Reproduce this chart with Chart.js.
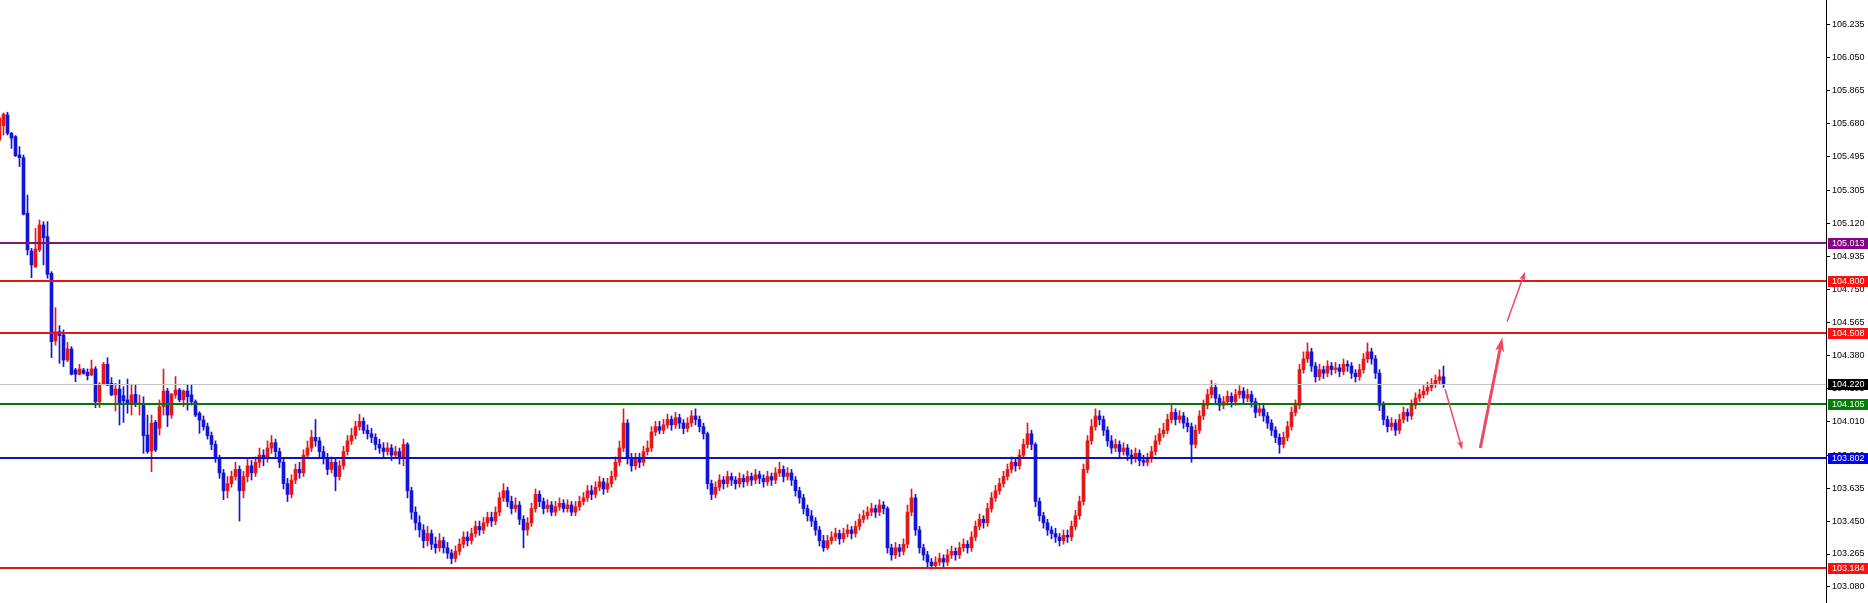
<!DOCTYPE html>
<html><head><meta charset="utf-8">
<script src="https://cdn.jsdelivr.net/npm/chart.js@4"></script>
<style>html,body{margin:0;padding:0;background:#fff;overflow:hidden}canvas{display:block}</style>
</head><body>
<canvas id="c" width="1868" height="603"></canvas>
<script>
// ---- data ----
const opens = [
105.589,105.670,105.730,105.627,105.608,105.505,105.490,105.178,104.966,104.878,
104.972,105.112,105.047,104.841,104.461,104.513,104.495,104.354,104.416,104.298,
104.274,104.298,104.285,104.270,104.304,104.120,104.217,104.330,104.223,104.158,
104.191,104.154,104.130,104.111,104.161,104.106,104.111,103.933,103.843,104.004,
103.971,104.092,104.180,104.045,104.158,104.186,104.130,104.180,104.158,104.120,
104.055,
104.017,103.98,103.93,103.88,103.80,103.72,103.62,103.66,103.70,103.74,
103.62,103.70,103.76,103.72,103.78,103.82,103.80,103.86,103.89,103.84,
103.78,103.66,103.60,103.68,103.74,103.72,103.82,103.86,103.92,103.90,
103.84,103.80,103.74,103.78,103.70,103.76,103.84,103.90,103.93,103.98,
104.01,103.96,103.94,103.92,103.88,103.86,103.84,103.86,103.82,103.84,
103.80,103.88,103.62,103.50,103.44,103.40,103.34,103.38,103.32,103.30,
103.34,103.30,103.27,103.24,103.28,103.32,103.36,103.34,103.38,103.42,
103.40,103.44,103.47,103.45,103.50,103.58,103.62,103.56,103.52,103.54,
103.46,103.40,103.44,103.52,103.60,103.56,103.52,103.54,103.50,103.53,
103.55,103.52,103.54,103.50,103.53,103.56,103.58,103.62,103.60,103.64,
103.67,103.63,103.66,103.70,103.78,103.86,104.00,103.80,103.76,103.80,
103.78,103.84,103.86,103.95,103.98,103.96,103.99,104.02,103.99,104.03,
104.00,103.97,104.00,104.04,104.02,103.98,103.94,103.66,103.60,103.64,
103.68,103.66,103.70,103.68,103.66,103.69,103.67,103.70,103.68,103.71,
103.69,103.67,103.70,103.68,103.72,103.74,103.70,103.72,103.68,103.62,
103.58,103.52,103.48,103.45,103.40,103.34,103.30,103.34,103.36,103.38,
103.35,103.38,103.40,103.38,103.42,103.46,103.48,103.50,103.52,103.50,
103.54,103.52,103.30,103.26,103.30,103.28,103.32,103.50,103.58,103.40,
103.30,103.26,103.22,103.20,103.22,103.24,103.22,103.26,103.28,103.26,
103.30,103.32,103.30,103.36,103.42,103.46,103.44,103.52,103.58,103.62,
103.66,103.70,103.74,103.78,103.76,103.82,103.88,103.94,103.88,103.56,
103.48,103.44,103.40,103.38,103.36,103.34,103.37,103.36,103.42,103.48,
103.56,103.74,103.90,103.98,104.04,104.02,103.96,103.90,103.86,103.88,
103.84,103.86,103.82,103.80,103.83,103.79,103.78,103.80,103.84,103.90,
103.94,103.96,104.02,104.06,104.02,104.04,104.00,103.98,103.88,103.96,
104.04,104.10,104.16,104.20,104.14,104.10,104.12,104.15,104.12,104.16,
104.18,104.14,104.16,104.12,104.06,104.08,104.04,104.00,103.96,103.92,
103.88,103.92,103.98,104.06,104.10,104.30,104.36,104.40,104.32,104.26,
104.30,104.28,104.32,104.30,104.31,104.29,104.33,104.32,104.28,104.26,
104.30,104.36,104.40,104.36,104.28,104.10,104.02,103.98,104.00,103.96,
104.02,104.06,104.04,104.10,104.14,104.16,104.18,104.20,104.22,104.24,104.26
];
const highs = [
105.720,105.741,105.745,105.632,105.614,105.552,105.505,105.280,104.981,105.093,
105.140,105.131,105.131,104.850,104.648,104.547,104.523,104.453,104.429,104.307,
104.330,104.307,104.304,104.354,104.317,104.227,104.341,104.367,104.255,104.223,
104.242,104.204,104.247,104.214,104.214,104.158,104.148,104.045,104.045,104.015,
104.130,104.304,104.195,104.167,104.261,104.195,104.186,104.214,104.214,104.130,
104.064,
104.04,104.00,103.95,103.90,103.82,103.74,103.70,103.73,103.78,103.76,
103.73,103.80,103.79,103.81,103.86,103.85,103.90,103.93,103.91,103.86,
103.80,103.69,103.71,103.77,103.78,103.85,103.90,103.96,104.02,103.92,
103.87,103.83,103.81,103.80,103.79,103.87,103.93,103.97,104.01,104.05,
104.03,103.99,103.97,103.94,103.91,103.89,103.89,103.88,103.87,103.86,
103.91,103.89,103.64,103.53,103.48,103.43,103.42,103.40,103.36,103.38,
103.36,103.33,103.29,103.31,103.35,103.39,103.39,103.41,103.45,103.45,
103.47,103.50,103.50,103.53,103.61,103.66,103.64,103.59,103.58,103.56,
103.48,103.47,103.55,103.63,103.62,103.58,103.57,103.56,103.56,103.58,
103.57,103.57,103.56,103.56,103.59,103.61,103.65,103.65,103.67,103.70,
103.69,103.69,103.73,103.81,103.90,104.08,104.02,103.83,103.83,103.83,
103.87,103.90,103.98,104.01,104.01,104.02,104.05,104.04,104.06,104.05,
104.02,104.03,104.07,104.08,104.04,104.00,103.95,103.68,103.67,103.71,
103.70,103.73,103.72,103.70,103.72,103.71,103.73,103.72,103.74,103.73,
103.71,103.73,103.72,103.75,103.78,103.76,103.75,103.74,103.70,103.64,
103.60,103.54,103.51,103.47,103.42,103.37,103.37,103.39,103.41,103.40,
103.41,103.43,103.42,103.45,103.49,103.51,103.53,103.55,103.54,103.57,
103.56,103.53,103.32,103.33,103.32,103.35,103.54,103.63,103.60,103.42,
103.32,103.28,103.24,103.25,103.27,103.26,103.29,103.31,103.30,103.33,
103.35,103.34,103.39,103.45,103.49,103.48,103.55,103.61,103.65,103.69,
103.73,103.77,103.81,103.80,103.85,103.91,104.00,103.96,103.89,103.58,
103.50,103.46,103.42,103.41,103.38,103.40,103.40,103.45,103.51,103.59,
103.77,103.93,104.02,104.08,104.07,104.04,103.98,103.93,103.91,103.90,
103.89,103.88,103.85,103.86,103.85,103.82,103.83,103.87,103.93,103.97,
104.00,104.05,104.10,104.08,104.07,104.06,104.03,104.00,103.99,104.07,
104.13,104.19,104.24,104.22,104.16,104.15,104.18,104.17,104.19,104.21,
104.20,104.19,104.18,104.14,104.11,104.10,104.06,104.02,103.98,103.94,
103.95,104.01,104.09,104.13,104.33,104.40,104.45,104.42,104.34,104.33,
104.32,104.35,104.34,104.34,104.33,104.36,104.35,104.34,104.30,104.33,
104.39,104.45,104.42,104.38,104.30,104.12,104.04,104.03,104.02,104.05,
104.09,104.08,104.13,104.17,104.19,104.21,104.23,104.25,104.27,104.30,104.32
];
const lows = [
105.580,105.617,105.617,105.542,105.496,105.440,105.168,104.944,104.816,104.873,
104.962,104.888,104.813,104.367,104.438,104.335,104.317,104.345,104.270,104.232,
104.270,104.274,104.242,104.266,104.087,104.087,104.214,104.210,104.154,104.068,
103.989,104.004,104.055,104.045,104.092,104.045,103.830,103.830,103.727,103.840,
103.933,104.045,103.980,104.027,104.139,104.120,104.092,104.073,104.102,104.036,
103.942,
103.96,103.91,103.85,103.78,103.69,103.57,103.58,103.64,103.68,103.45,
103.58,103.67,103.68,103.70,103.75,103.76,103.78,103.83,103.81,103.75,
103.63,103.56,103.58,103.66,103.69,103.70,103.80,103.84,103.87,103.81,
103.77,103.71,103.72,103.62,103.68,103.74,103.82,103.88,103.91,103.96,
103.94,103.91,103.89,103.85,103.83,103.81,103.82,103.79,103.80,103.77,
103.76,103.58,103.46,103.40,103.36,103.30,103.31,103.29,103.27,103.28,
103.27,103.24,103.21,103.22,103.26,103.30,103.31,103.32,103.36,103.37,
103.38,103.42,103.42,103.43,103.48,103.56,103.53,103.49,103.50,103.43,
103.30,103.37,103.42,103.50,103.53,103.49,103.50,103.48,103.48,103.51,
103.50,103.50,103.48,103.48,103.51,103.54,103.56,103.57,103.58,103.62,
103.60,103.61,103.64,103.68,103.76,103.84,103.77,103.73,103.74,103.75,
103.76,103.82,103.84,103.93,103.94,103.94,103.97,103.96,103.97,103.97,
103.94,103.95,103.98,103.99,103.95,103.91,103.63,103.57,103.58,103.62,
103.63,103.64,103.65,103.63,103.64,103.64,103.65,103.65,103.66,103.66,
103.64,103.65,103.65,103.66,103.70,103.67,103.68,103.65,103.59,103.55,
103.49,103.45,103.42,103.37,103.31,103.28,103.29,103.32,103.34,103.32,
103.33,103.36,103.35,103.36,103.40,103.44,103.46,103.48,103.47,103.48,
103.49,103.27,103.23,103.24,103.25,103.26,103.30,103.48,103.37,103.27,
103.23,103.19,103.18,103.18,103.20,103.19,103.20,103.24,103.23,103.24,
103.28,103.27,103.28,103.34,103.40,103.41,103.42,103.50,103.56,103.60,
103.64,103.68,103.72,103.73,103.74,103.80,103.86,103.85,103.53,103.45,
103.41,103.37,103.35,103.33,103.31,103.32,103.33,103.34,103.40,103.46,
103.54,103.72,103.88,103.96,103.99,103.93,103.87,103.83,103.84,103.81,
103.82,103.79,103.77,103.78,103.76,103.76,103.76,103.78,103.82,103.88,
103.92,103.94,104.00,103.99,104.00,103.97,103.95,103.78,103.86,103.94,
104.02,104.08,104.14,104.11,104.07,104.08,104.10,104.09,104.10,104.14,
104.11,104.12,104.09,104.03,104.04,104.01,103.97,103.93,103.89,103.83,
103.86,103.90,103.96,104.04,104.08,104.28,104.34,104.29,104.23,104.24,
104.25,104.26,104.27,104.28,104.26,104.27,104.29,104.25,104.23,104.24,
104.28,104.34,104.33,104.25,104.07,103.99,103.95,103.96,103.93,103.94,
104.00,104.01,104.02,104.08,104.12,104.14,104.16,104.18,104.20,104.22,104.20
];
const closes = [
105.711,105.733,105.627,105.600,105.501,105.490,105.172,104.972,104.888,104.977,
105.112,105.041,104.835,104.457,104.513,104.491,104.354,104.416,104.274,104.274,
104.304,104.279,104.266,104.304,104.120,104.219,104.330,104.214,104.158,104.191,
104.111,104.124,104.111,104.158,104.111,104.111,103.929,103.840,103.999,103.849,
104.092,104.180,104.045,104.161,104.186,104.130,104.180,104.148,104.120,104.045,
104.017,
103.98,103.93,103.88,103.80,103.72,103.62,103.66,103.70,103.74,103.62,
103.70,103.76,103.72,103.78,103.82,103.80,103.86,103.89,103.84,103.78,
103.66,103.60,103.68,103.74,103.72,103.82,103.86,103.92,103.90,103.84,
103.80,103.74,103.78,103.70,103.76,103.84,103.90,103.93,103.98,104.01,
103.96,103.94,103.92,103.88,103.86,103.84,103.86,103.82,103.84,103.80,
103.88,103.62,103.50,103.44,103.40,103.34,103.38,103.32,103.30,103.34,
103.30,103.27,103.24,103.28,103.32,103.36,103.34,103.38,103.42,103.40,
103.44,103.47,103.45,103.50,103.58,103.62,103.56,103.52,103.54,103.46,
103.40,103.44,103.52,103.60,103.56,103.52,103.54,103.50,103.53,103.55,
103.52,103.54,103.50,103.53,103.56,103.58,103.62,103.60,103.64,103.67,
103.63,103.66,103.70,103.78,103.86,104.00,103.80,103.76,103.80,103.78,
103.84,103.86,103.95,103.98,103.96,103.99,104.02,103.99,104.03,104.00,
103.97,104.00,104.04,104.02,103.98,103.94,103.66,103.60,103.64,103.68,
103.66,103.70,103.68,103.66,103.69,103.67,103.70,103.68,103.71,103.69,
103.67,103.70,103.68,103.72,103.74,103.70,103.72,103.68,103.62,103.58,
103.52,103.48,103.45,103.40,103.34,103.30,103.34,103.36,103.38,103.35,
103.38,103.40,103.38,103.42,103.46,103.48,103.50,103.52,103.50,103.54,
103.52,103.30,103.26,103.30,103.28,103.32,103.50,103.58,103.40,103.30,
103.26,103.22,103.20,103.22,103.24,103.22,103.26,103.28,103.26,103.30,
103.32,103.30,103.36,103.42,103.46,103.44,103.52,103.58,103.62,103.66,
103.70,103.74,103.78,103.76,103.82,103.88,103.94,103.88,103.56,103.48,
103.44,103.40,103.38,103.36,103.34,103.37,103.36,103.42,103.48,103.56,
103.74,103.90,103.98,104.04,104.02,103.96,103.90,103.86,103.88,103.84,
103.86,103.82,103.80,103.83,103.79,103.78,103.80,103.84,103.90,103.94,
103.96,104.02,104.06,104.02,104.04,104.00,103.98,103.88,103.96,104.04,
104.10,104.16,104.20,104.14,104.10,104.12,104.15,104.12,104.16,104.18,
104.14,104.16,104.12,104.06,104.08,104.04,104.00,103.96,103.92,103.88,
103.92,103.98,104.06,104.10,104.30,104.36,104.40,104.32,104.26,104.30,
104.28,104.32,104.30,104.31,104.29,104.33,104.32,104.28,104.26,104.30,
104.36,104.40,104.36,104.28,104.10,104.02,103.98,104.00,103.96,104.02,
104.06,104.04,104.10,104.14,104.16,104.18,104.20,104.22,104.24,104.26,104.22
];
const priceTicks = [106.235,106.050,105.865,105.680,105.495,105.305,105.120,104.935,104.750,104.565,104.380,104.195,104.010,103.820,103.635,103.450,103.265,103.080];
const levelValues = [105.013,104.800,104.508,104.220,104.105,103.802,103.184];
const levelNames  = ['purple','red','red','current','green','blue','red'];
// arrows in chart units: [barIndex, price]
const arrowStart = [[361.4,104.19],[370.2,103.86],[376.9,104.57]];
const arrowEnd   = [[365.7,103.85],[375.7,104.48],[381.4,104.85]];
const arrowKind  = ['thin','thick','thin'];

// ---- styles ----
const UP = '#e31919', DOWN = '#1414d6';
const LINE_COL = {purple:'#761a76', red:'#d81a1a', current:'#c4c4c4', green:'#0b740b', blue:'#1010c0'};
const BOX_COL  = {purple:'#850085', red:'#ff1010', current:'#000000', green:'#008000', blue:'#0000ff'};
const FONT_FAMILY = '"Liberation Sans", Arial, sans-serif';
const FONT_SIZE = 9;

const n = Math.min(opens.length, highs.length, lows.length, closes.length);
const bodies = [], wicks = [];
for (let i = 0; i < n; i++) {
  bodies.push({x: i, y: [opens[i], closes[i]]});
  wicks.push({x: i, y: [lows[i], highs[i]]});
}
const colorOf = ctx => (closes[ctx.dataIndex] >= opens[ctx.dataIndex] ? UP : DOWN);

const overlay = {
  id: 'overlay',
  afterDraw(chart) {
    const c = chart.ctx, ys = chart.scales.y, xs = chart.scales.x, a = chart.chartArea;
    c.save();
    // level lines
    levelValues.forEach((v, k) => {
      const y = Math.round(ys.getPixelForValue(v));
      const nm = levelNames[k];
      c.fillStyle = LINE_COL[nm];
      if (nm === 'current') c.fillRect(a.left, y, a.right - a.left, 1);
      else c.fillRect(a.left, y - 1, a.right - a.left, 2);
    });
    // arrows
    c.strokeStyle = 'rgb(240,72,98)'; c.fillStyle = 'rgb(240,72,98)';
    arrowStart.forEach((s, k) => {
      const x1 = xs.getPixelForValue(s[0]), y1 = ys.getPixelForValue(s[1]);
      const x2 = xs.getPixelForValue(arrowEnd[k][0]), y2 = ys.getPixelForValue(arrowEnd[k][1]);
      const thick = arrowKind[k] === 'thick';
      const ang = Math.atan2(y2 - y1, x2 - x1);
      const hl = thick ? 14 : 9, hw = thick ? 4.5 : 3;
      c.lineWidth = thick ? 3 : 1.5;
      c.beginPath();
      c.moveTo(x1, y1);
      c.lineTo(x2 - Math.cos(ang) * hl * 0.7, y2 - Math.sin(ang) * hl * 0.7);
      c.stroke();
      c.beginPath();
      c.moveTo(x2, y2);
      c.lineTo(x2 - Math.cos(ang) * hl - Math.sin(ang) * hw, y2 - Math.sin(ang) * hl + Math.cos(ang) * hw);
      c.lineTo(x2 - Math.cos(ang) * hl * 0.75, y2 - Math.sin(ang) * hl * 0.75);
      c.lineTo(x2 - Math.cos(ang) * hl + Math.sin(ang) * hw, y2 - Math.sin(ang) * hl - Math.cos(ang) * hw);
      c.closePath();
      c.fill();
    });
    // level labels on the price axis
    c.font = FONT_SIZE + 'px ' + FONT_FAMILY; c.textBaseline = 'middle'; c.textAlign = 'left';
    levelValues.forEach((v, k) => {
      const y = Math.round(ys.getPixelForValue(v));
      c.fillStyle = BOX_COL[levelNames[k]];
      c.fillRect(a.right + 2, y - 5, chart.width - a.right - 2, 11);
      c.fillStyle = '#ffffff';
      c.fillText(v.toFixed(3), a.right + 6, y + 0.5);
    });
    c.restore();
  }
};

new Chart(document.getElementById('c'), {
  type: 'bar',
  data: {
    datasets: [
      {data: bodies, backgroundColor: colorOf, barThickness: 3, grouped: false, minBarLength: 1, borderWidth: 0},
      {data: wicks, backgroundColor: colorOf, barThickness: 1, grouped: false, borderWidth: 0}
    ]
  },
  options: {
    responsive: false, animation: false, devicePixelRatio: 1,
    layout: {padding: 0},
    plugins: {legend: {display: false}, tooltip: {enabled: false}},
    scales: {
      x: {type: 'linear', min: 0.125, max: 456.625, offset: false, display: false, grid: {offset: false}},
      y: {
        position: 'right', min: 102.990, max: 106.375,
        afterFit(s) { s.width = 42; s.paddingTop = 0; s.paddingBottom = 0; },
        afterBuildTicks(s) { s.ticks = priceTicks.map(v => ({value: v})); },
        grid: {drawOnChartArea: false, drawTicks: true, tickLength: 4, color: '#000', tickColor: '#000'},
        border: {display: true, color: '#000', width: 1},
        ticks: {autoSkip: false, padding: 2, color: '#000', font: {family: FONT_FAMILY, size: FONT_SIZE},
                callback: v => Number(v).toFixed(3)}
      }
    }
  },
  plugins: [overlay]
});
</script>
</body></html>
